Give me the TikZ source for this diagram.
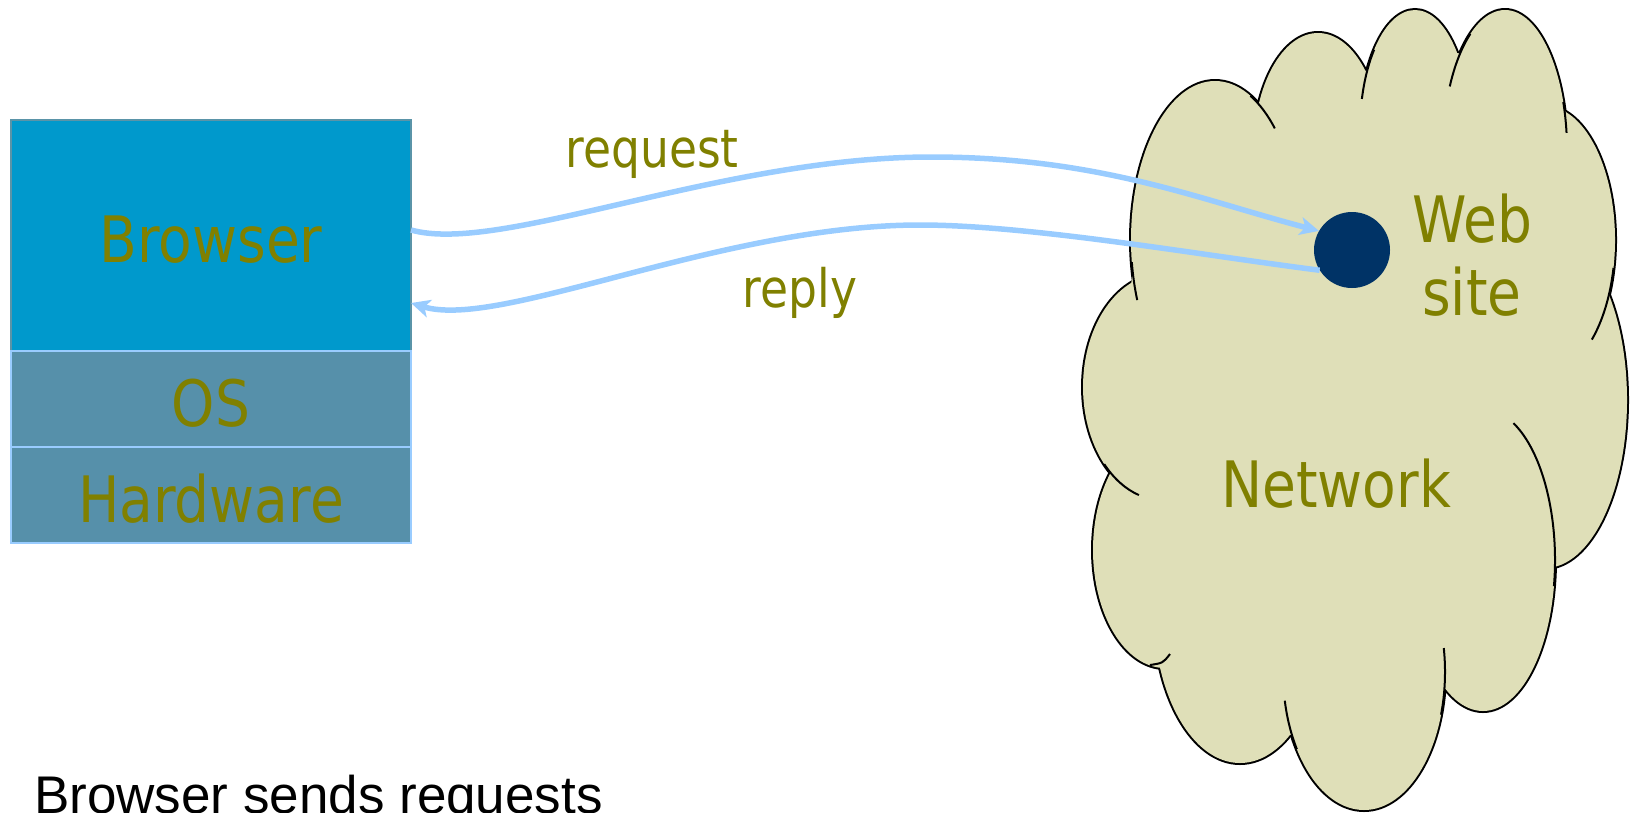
\documentclass[tikz,border=0pt]{standalone}
\usepackage{fontspec}
\setmainfont{DejaVu Sans}[FakeStretch=0.86]
\newfontfamily\arialfont{Liberation Sans}
\usetikzlibrary{arrows.meta}
\definecolor{olivetxt}{HTML}{808000}
\definecolor{browserfill}{HTML}{0099CC}
\definecolor{browserline}{HTML}{5A94A8}
\definecolor{osfill}{HTML}{5690AA}
\definecolor{arrowblue}{HTML}{99CCFF}
\definecolor{cloudfill}{HTML}{DFDFB8}
\definecolor{dotfill}{HTML}{003366}
\tikzset{
  layerbox/.style={rectangle, inner sep=0pt, outer sep=0pt, minimum width=400pt,
    text=olivetxt, font=\fontsize{64}{70}\selectfont, text height=54pt, text depth=0pt},
  biglbl/.style={text=olivetxt, font=\fontsize{64}{70}\selectfont, inner sep=0pt, anchor=base},
  smalllbl/.style={text=olivetxt, font=\fontsize{53}{60}\selectfont, inner sep=0pt, anchor=base},
  conn/.style={draw=arrowblue, line width=5.5pt, -{Stealth[length=19pt,width=18pt,inset=5pt]}},
  cloudline/.style={draw=black, line width=2pt},
  lobeedge/.style={draw=black, line width=4pt},
}
% \lobepath{cx}{cy}{rx}{ry}
\newcommand{\lobepath}[4]{(#1,#2) ellipse [x radius=#3, y radius=#4]}
% \lobeext{cx}{cy}{rx}{ry}{a}{b}
\newcommand{\lobeext}[6]{\draw[cloudline] (#1,#2) ++(#5:#3 and #4) arc[start angle=#5, end angle=#6, x radius=#3, y radius=#4];}
\begin{document}
\begin{tikzpicture}[x=1pt,y=-1pt]
\useasboundingbox (0,0) rectangle (1632,812);

% cloud: outline by thick strokes, then fills on top
\foreach \cx/\cy/\rx/\ry in {1215/240/84/159, 1318/150/64.4/117, 1415/130/55/120, 1505/150/62/140,
    1545/240/70/134, 1545/400/82/168, 1483/560/72/151, 1364/672/81/138, 1240/612/86/151,
    1165/550/72/118, 1162/387/79/113}
  {\draw[lobeedge] \lobepath{\cx}{\cy}{\rx}{\ry};}
\foreach \cx/\cy/\rx/\ry in {1215/240/84/159, 1318/150/64.4/117, 1415/130/55/120, 1505/150/62/140,
    1545/240/70/134, 1545/400/82/168, 1483/560/72/151, 1364/672/81/138, 1240/612/86/151,
    1165/550/72/118, 1162/387/79/113}
  {\fill[cloudfill] \lobepath{\cx}{\cy}{\rx}{\ry};}
\fill[cloudfill] (1132,277) -- (1260,103) -- (1365,71) -- (1458,53) -- (1566,112) -- (1611,287)
  -- (1554,567) -- (1442,688) -- (1290,735) -- (1156,665) -- (1110,478) -- cycle;

% interior continuations of the lobes
\lobeext{1215}{240}{84}{159}{172}{157.8}
\lobeext{1215}{240}{84}{159}{295}{315.4}
\lobeext{1415}{130}{55}{120}{222}{195}
\lobeext{1505}{150}{62}{140}{236}{207}
\lobeext{1505}{150}{62}{140}{340}{353}
\lobeext{1545}{240}{70}{134}{12}{48}
\lobeext{1483}{560}{72}{151}{10}{-65}
\lobeext{1364}{672}{81}{138}{146}{168}
\lobeext{1364}{672}{81}{138}{18}{-10}
\lobeext{1162}{387}{79}{113}{137}{107}
\draw[cloudline] (1150,665) .. controls (1163,663) .. (1170,654);

% layer boxes
\node[layerbox, fill=browserfill, draw=browserline, line width=1.5pt, minimum height=231pt] (browser) at (211,235.5) {Browser};
\node[layerbox, fill=osfill, draw=arrowblue, line width=2pt, minimum height=96pt] (os) at (211,399) {OS};
\node[layerbox, fill=osfill, draw=arrowblue, line width=2pt, minimum height=96pt] (hw) at (211,495) {Hardware};

% web site dot
\node[circle, fill=dotfill, minimum size=76pt, inner sep=0pt] (dot) at (1352,250) {};

% connectors
\draw[conn] ([yshift=5.5pt]browser.east) .. controls (500,255) and (720,157) .. (931,157)
  .. controls (1100,157) and (1200,200) .. (dot.150);
\draw[conn] (dot.212) .. controls (1200,255) and (1030,225) .. (920,225)
  .. controls (720,225) and (500,330) .. ([yshift=-67.5pt]browser.east);

% labels
\node[smalllbl] (reqlbl) at (652,167) {request};
\node[smalllbl] (replbl) at (800,307) {reply};
\node[biglbl] (web) at (1472,242) {Web};
\node[biglbl] (site) at (1472,315) {site};
\node[biglbl] (net) at (1336,507) {Network};
\node[anchor=base west, inner sep=0pt, font=\arialfont\fontsize{53}{60}\selectfont] (caption) at (34,813) {Browser sends requests};
\end{tikzpicture}
\end{document}
